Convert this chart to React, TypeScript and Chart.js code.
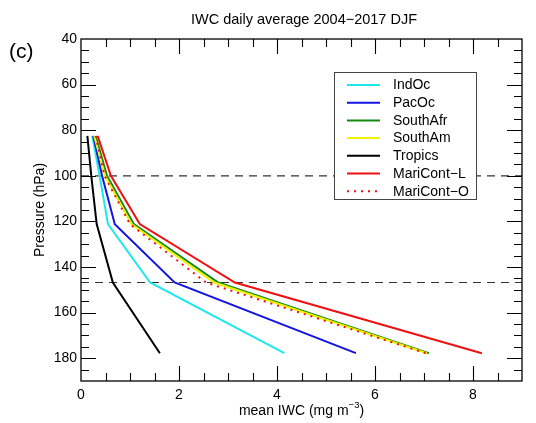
import React, { useEffect, useRef } from "react";
import { Chart, registerables } from "chart.js";

Chart.register(...registerables);

// Pressure levels (hPa) at which the mean ice water content is given
const PRESSURE = [82.5, 100, 121.2, 146.8, 177.8];

// Mean IWC (mg m^-3) per region, one value per pressure level
const IND_OC = [0.23, 0.38, 0.55, 1.41, 4.15];
const PAC_OC = [0.25, 0.43, 0.69, 1.91, 5.61];
const SOUTH_AFR = [0.3, 0.53, 1.08, 2.8, 7.1];
const SOUTH_AM = [0.27, 0.49, 1.03, 2.72, 7.06];
const TROPICS = [0.13, 0.21, 0.32, 0.65, 1.61];
const MARI_CONT_L = [0.34, 0.61, 1.2, 3.14, 8.18];
const MARI_CONT_O = [0.3, 0.48, 1.0, 2.55, 7.04];

const SERIES_NAMES = ["IndOc", "PacOc", "SouthAfr", "SouthAm", "Tropics", "MariCont-L", "MariCont-O"];
const SERIES_VALUES = [IND_OC, PAC_OC, SOUTH_AFR, SOUTH_AM, TROPICS, MARI_CONT_L, MARI_CONT_O];
const SERIES_COLORS = ["#1fe8ec", "#1414e0", "#138a13", "#f2f200", "#000000", "#ee1111", "#ee1111"];
const SERIES_DOTTED = [false, false, false, false, false, false, true];

// Axis ticks
const X_TICKS = [0, 2, 4, 6, 8];
const Y_TICKS = [40, 60, 80, 100, 120, 140, 160, 180];
const REF_LEVELS = [100, 146.8];

const FONT = "'Liberation Sans', Arial, Helvetica, sans-serif";

const decorations = {
  id: "decorations",
  beforeDatasetsDraw(chart: any) {
    const { ctx, chartArea: a, scales } = chart;
    const y = scales.y;
    ctx.save();
    ctx.strokeStyle = "#333";
    ctx.lineWidth = 1.2;
    ctx.setLineDash([8, 6]);
    for (const p of REF_LEVELS) {
      const py = y.getPixelForValue(p);
      ctx.beginPath();
      ctx.moveTo(a.left, py);
      ctx.lineTo(a.right, py);
      ctx.stroke();
    }
    ctx.restore();
  },
  afterDraw(chart: any) {
    const { ctx, chartArea: a, scales } = chart;
    const xs = scales.x;
    const ys = scales.y;
    ctx.save();

    // frame
    ctx.strokeStyle = "#000";
    ctx.lineWidth = 1.3;
    ctx.strokeRect(a.left, a.top, a.right - a.left, a.bottom - a.top);

    // inward tick marks on all four sides
    ctx.lineWidth = 1.1;
    ctx.beginPath();
    for (let v = 0.5; v < 9; v += 0.5) {
      const px = Math.round(xs.getPixelForValue(v)) + 0.5;
      const len = X_TICKS.includes(v) ? 15 : 8;
      ctx.moveTo(px, a.bottom);
      ctx.lineTo(px, a.bottom - len);
      ctx.moveTo(px, a.top);
      ctx.lineTo(px, a.top + len);
    }
    for (let v = 45; v < 190; v += 5) {
      const py = Math.round(ys.getPixelForValue(v)) + 0.5;
      const len = Y_TICKS.includes(v) ? 15 : 8;
      ctx.moveTo(a.left, py);
      ctx.lineTo(a.left + len, py);
      ctx.moveTo(a.right, py);
      ctx.lineTo(a.right - len, py);
    }
    ctx.stroke();

    // legend
    const bx = 334, by = 72, bw = 142, bh = 127;
    ctx.fillStyle = "#fff";
    ctx.fillRect(bx, by, bw, bh);
    ctx.strokeStyle = "#444";
    ctx.lineWidth = 1;
    ctx.strokeRect(bx + 0.5, by + 0.5, bw, bh);
    ctx.font = `14px ${FONT}`;
    ctx.textBaseline = "middle";
    ctx.textAlign = "left";
    SERIES_NAMES.forEach((name, i) => {
      const ry = 85 + i * 17.7;
      ctx.strokeStyle = SERIES_COLORS[i];
      ctx.lineWidth = 2;
      ctx.setLineDash(SERIES_DOTTED[i] ? [2, 5] : []);
      ctx.beginPath();
      ctx.moveTo(347, ry);
      ctx.lineTo(380, ry);
      ctx.stroke();
      ctx.setLineDash([]);
      ctx.fillStyle = "#000";
      ctx.fillText(name.replace("-", "\u2212"), 393, ry + 0.5);
    });

    // title and panel tag
    ctx.fillStyle = "#000";
    ctx.textAlign = "center";
    ctx.font = `14.5px ${FONT}`;
    ctx.fillText("IWC daily average 2004\u22122017 DJF", 304, 20);
    ctx.textAlign = "left";
    ctx.font = `21px ${FONT}`;
    ctx.fillText("(c)", 9, 52);

    // y axis title
    ctx.save();
    ctx.translate(40, (a.top + a.bottom) / 2);
    ctx.rotate(-Math.PI / 2);
    ctx.textAlign = "center";
    ctx.font = `14px ${FONT}`;
    ctx.fillText("Pressure (hPa)", 0, 0);
    ctx.restore();

    // x axis title with superscript unit
    const main = "mean IWC (mg m";
    const sup = "\u22123";
    ctx.font = `14px ${FONT}`;
    const w1 = ctx.measureText(main).width;
    const w3 = ctx.measureText(")").width;
    ctx.font = `9.5px ${FONT}`;
    const w2 = ctx.measureText(sup).width;
    const cx = (a.left + a.right) / 2;
    let sx = cx - (w1 + w2 + w3) / 2;
    const ty = 411;
    ctx.textAlign = "left";
    ctx.font = `14px ${FONT}`;
    ctx.fillText(main, sx, ty);
    sx += w1;
    ctx.font = `9.5px ${FONT}`;
    ctx.fillText(sup, sx, ty - 6);
    sx += w2;
    ctx.font = `14px ${FONT}`;
    ctx.fillText(")", sx, ty);

    ctx.restore();
  },
};

export default function App() {
  const canvasRef = useRef<HTMLCanvasElement | null>(null);

  useEffect(() => {
    const canvas = canvasRef.current;
    if (!canvas) return;

    const datasets = SERIES_NAMES.map((name, i) => ({
      label: name,
      data: PRESSURE.map((p, k) => ({ x: SERIES_VALUES[i][k], y: p })),
      borderColor: SERIES_COLORS[i],
      backgroundColor: SERIES_COLORS[i],
      borderWidth: 2,
      borderDash: SERIES_DOTTED[i] ? [2, 5] : [],
      pointRadius: 0,
      fill: false,
      tension: 0,
      order: 20 - i,
    }));

    const chart = new Chart(canvas, {
      type: "line",
      data: { datasets },
      options: {
        animation: false,
        responsive: false,
        devicePixelRatio: 1,
        layout: { padding: { left: 0, right: 14, top: 39, bottom: 0 } },
        plugins: {
          legend: { display: false },
          title: { display: false },
          tooltip: { enabled: false },
        },
        scales: {
          x: {
            type: "linear",
            min: 0,
            max: 9,
            grid: { display: false, drawTicks: false },
            border: { display: false },
            ticks: { padding: 6, color: "#000", font: { family: FONT, size: 14 } },
            afterBuildTicks: (s: any) => {
              s.ticks = X_TICKS.map((v) => ({ value: v }));
            },
            afterFit: (s: any) => {
              s.height = 42;
            },
          },
          y: {
            type: "linear",
            reverse: true,
            min: 40,
            max: 190,
            grid: { display: false, drawTicks: false },
            border: { display: false },
            ticks: { padding: 4, color: "#000", font: { family: FONT, size: 14 } },
            afterBuildTicks: (s: any) => {
              s.ticks = Y_TICKS.map((v) => ({ value: v }));
            },
            afterFit: (s: any) => {
              s.width = 81;
            },
          },
        },
      },
      plugins: [decorations],
    });

    return () => chart.destroy();
  }, []);

  return (
    <div style={{ position: "absolute", left: 0, top: 0, width: 536, height: 423, background: "#fff" }}>
      <canvas ref={canvasRef} width={536} height={423} style={{ width: 536, height: 423 }} />
    </div>
  );
}
